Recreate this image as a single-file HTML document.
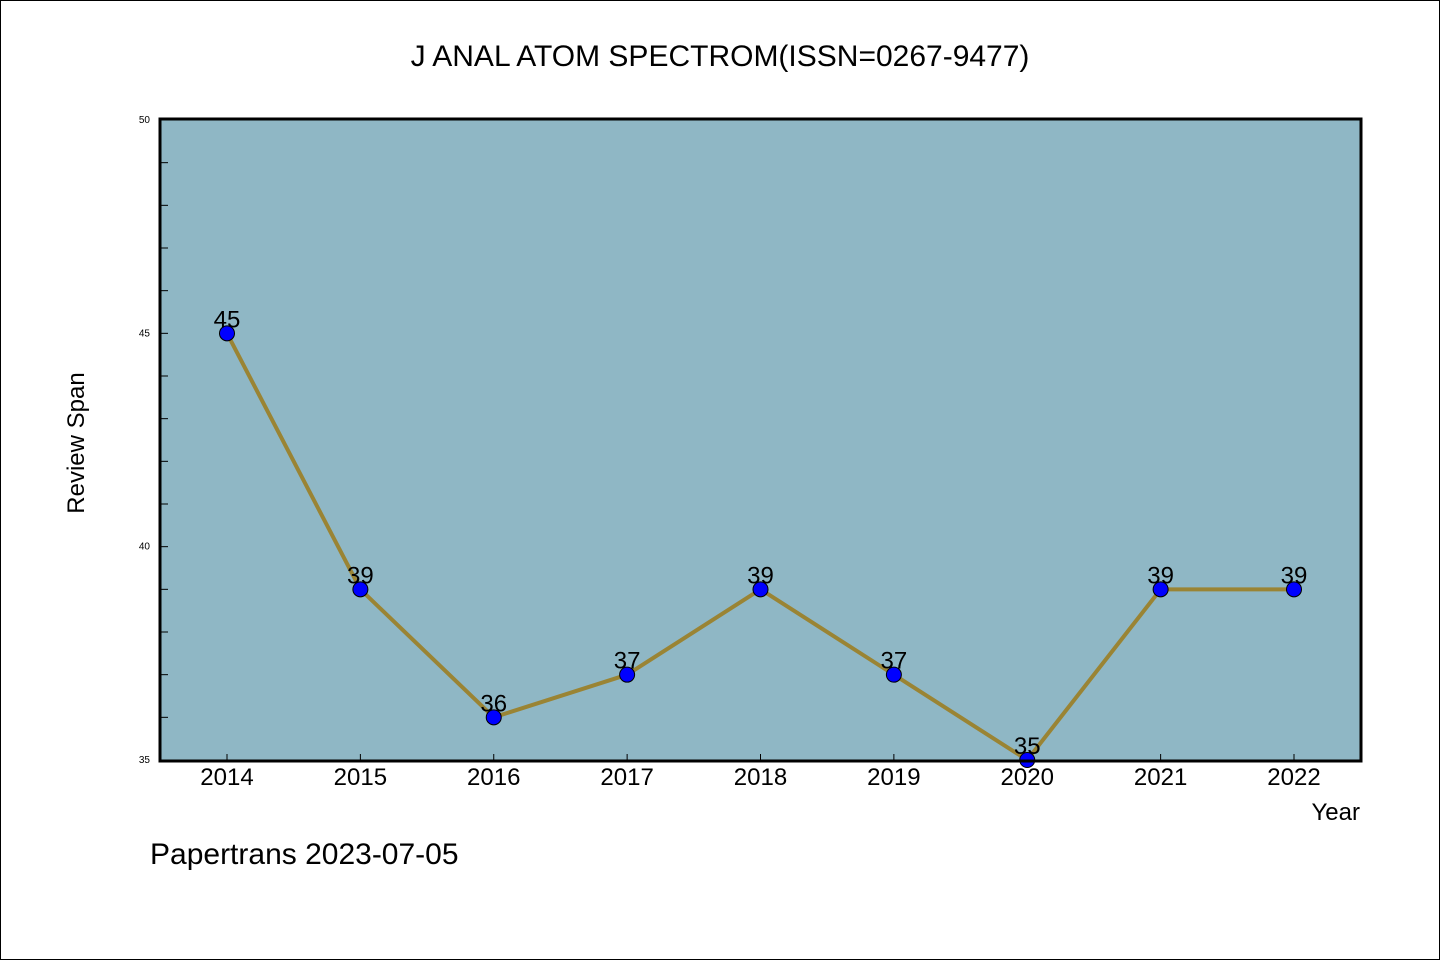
<!DOCTYPE html>
<html><head><meta charset="utf-8">
<style>
html,body{margin:0;padding:0;background:#fff;}
body{width:1440px;height:960px;overflow:hidden;}
svg{display:block;font-family:"WenQuanYi Zen Hei","Liberation Sans",sans-serif;}
</style></head>
<body>
<svg id="chart" width="1440" height="960" xmlns="http://www.w3.org/2000/svg">
<rect x="0.5" y="0.5" width="1439" height="959" fill="#fff" stroke="#000" stroke-width="1"/>
<text x="720" y="66" font-size="30" text-anchor="middle" fill="#000">J ANAL ATOM SPECTROM(ISSN=0267-9477)</text>
<rect x="160" y="119" width="1201" height="642" fill="#8fb7c5"/>
<g id="ticks"></g>
<g id="series"></g>
<rect x="160" y="119" width="1201" height="642" fill="none" stroke="#000" stroke-width="3"/>
<text transform="translate(84,443) rotate(-90)" font-size="24" text-anchor="middle" fill="#000">Review Span</text>
<text x="1360" y="820" font-size="24" text-anchor="end" fill="#000">Year</text>
<text x="150" y="864" font-size="30" fill="#000">Papertrans 2023-07-05</text>
</svg>
<script>
const years = [2014, 2015, 2016, 2017, 2018, 2019, 2020, 2021, 2022];
const values = [45, 39, 36, 37, 39, 37, 35, 39, 39];
const yTickLabels = [35, 40, 45, 50];

const NS = "http://www.w3.org/2000/svg";
const x0 = 227, xStep = 133.375, yMin = 35, yMax = 50, yBottom = 760, yTop = 120;
function xs(i){ return x0 + i * xStep; }
function ys(v){ return yBottom - (v - yMin) / (yMax - yMin) * (yBottom - yTop); }
function mk(tag, attrs){ const e = document.createElementNS(NS, tag); for (const k in attrs) e.setAttribute(k, attrs[k]); return e; }

const ticks = document.getElementById('ticks');
for (let v = yMin; v <= yMax; v++) {
  const t = mk('line', {x1:160, x2:168, y1:ys(v), y2:ys(v), stroke:'#000', 'stroke-width':1});
  
  
  ticks.appendChild(t);
}
yTickLabels.forEach(v => {
  const t = mk('text', {x:150, y:ys(v) + 3, 'font-size':10, 'text-anchor':'end', fill:'#000'});
  t.textContent = v;
  
  
  ticks.appendChild(t);
});
years.forEach((yr, i) => {
  const t = mk('line', {x1:xs(i), x2:xs(i), y1:761, y2:754, stroke:'#000', 'stroke-width':1});
  
  
  ticks.appendChild(t);
  const l = mk('text', {x:xs(i), y:785, 'font-size':24, 'text-anchor':'middle', fill:'#000'});
  l.textContent = yr;
  
  
  ticks.appendChild(l);
});

const series = document.getElementById('series');
const pts = values.map((v, i) => xs(i) + ',' + ys(v)).join(' ');
const line = mk('polyline', {points:pts, fill:'none', stroke:'#9a8434', 'stroke-width':4, 'stroke-linejoin':'round'});


series.appendChild(line);
values.forEach((v, i) => {
  const c = mk('circle', {cx:xs(i), cy:ys(v), r:7.5, fill:'#0000ff', stroke:'#000', 'stroke-width':1});
  
  
  series.appendChild(c);
  const t = mk('text', {x:xs(i), y:ys(v) - 6, 'font-size':24, 'text-anchor':'middle', fill:'#000'});
  t.textContent = v;
  
  
  series.appendChild(t);
});
</script>
</body></html>
